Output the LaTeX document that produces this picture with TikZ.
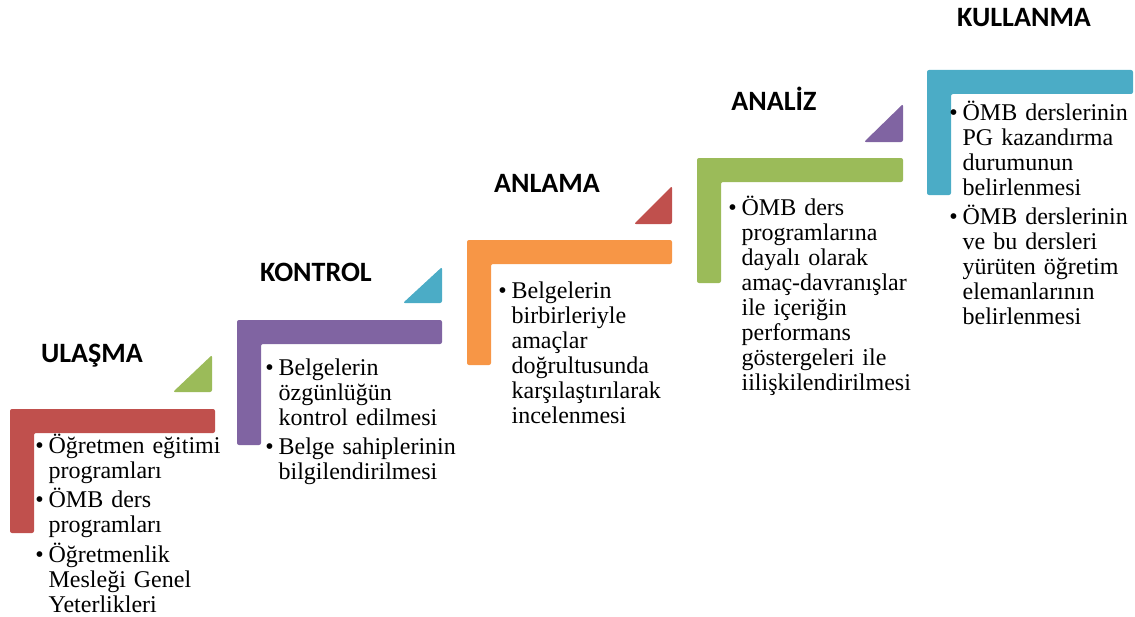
\documentclass[tikz,border=0pt]{standalone}
\usepackage{fontspec}
\setmainfont{Liberation Serif}
\newfontfamily\headfont{Carlito}
\usepackage{tikz}
\definecolor{stepred}{HTML}{C0504D}
\definecolor{steppurple}{HTML}{8064A2}
\definecolor{steporange}{HTML}{F79646}
\definecolor{stepgreen}{HTML}{9BBB59}
\definecolor{stepblue}{HTML}{4BACC6}
\tikzset{stair/.style={rounded corners=1.5pt},
  head/.style={anchor=base,inner sep=0,font=\headfont\bfseries\fontsize{21}{25}\selectfont},
  items/.style={anchor=base west,inner sep=0,text width=170pt,align=left,font=\fontsize{18}{18.75}\selectfont}}
\newcommand{\itm}{\hangindent=10pt\hangafter=1\noindent\makebox[10pt][l]{\textbullet}}

\begin{document}
\begin{tikzpicture}[x=0.75pt,y=-0.75pt]
    \useasboundingbox (0,0) rectangle (1135,617);

    % steps
    \fill[stepred,stair] (10,409) -- (215,409) -- (215,433) -- (34,433) -- (34,533) -- (10,533) -- cycle;
    \fill[steppurple,stair] (237,320) -- (442,320) -- (442,344) -- (261,344) -- (261,445) -- (237,445) -- cycle;
    \fill[steporange,stair] (467,240) -- (672,240) -- (672,264) -- (491,264) -- (491,365) -- (467,365) -- cycle;
    \fill[stepgreen,stair] (697,158) -- (903,158) -- (903,182) -- (721,182) -- (721,283) -- (697,283) -- cycle;
    \fill[stepblue,stair] (927,70) -- (1133,70) -- (1133,94) -- (951,94) -- (951,195) -- (927,195) -- cycle;

    % arrows between steps
    \fill[stepgreen,stair] (173,392) -- (212,392) -- (212,355) -- cycle;
    \fill[stepblue,stair] (403,303) -- (442,303) -- (442,267) -- cycle;
    \fill[stepred,stair] (634,224) -- (672,224) -- (672,186) -- cycle;
    \fill[steppurple,stair] (864,142) -- (903,142) -- (903,104) -- cycle;

    \node[head] (h1) at (92,362) {ULAŞMA};
    \node[head] (h2) at (316,281) {KONTROL};
    \node[head] (h3) at (547,192) {ANLAMA};
    \node[head] (h4) at (774,110) {ANALİZ};
    \node[head] (h5) at (1024,27) {KULLANMA};

    \node[items] (t1) at (35,453) {\setlength{\parskip}{3.5pt}%
        \itm Öğretmen eğitimi\newline programları\par
        \itm ÖMB ders\newline programları\par
        \itm Öğretmenlik\newline Mesleği Genel\newline Yeterlikleri\par};
    \node[items] (t2) at (265,375) {\setlength{\parskip}{3.5pt}%
        \itm Belgelerin\newline özgünlüğün\newline kontrol edilmesi\par
        \itm Belge sahiplerinin\newline bilgilendirilmesi\par};
    \node[items] (t3) at (498,298) {\setlength{\parskip}{3.5pt}%
        \itm Belgelerin\newline birbirleriyle\newline amaçlar\newline doğrultusunda\newline karşılaştırılarak\newline incelenmesi\par};
    \node[items] (t4) at (728,215) {\setlength{\parskip}{3.5pt}%
        \itm ÖMB ders\newline programlarına\newline dayalı olarak\newline amaç-davranışlar\newline ile içeriğin\newline performans\newline göstergeleri ile\newline iilişkilendirilmesi\par};
    \node[items] (t5) at (949,120) {\setlength{\parskip}{3.5pt}%
        \itm ÖMB derslerinin\newline PG kazandırma\newline durumunun\newline belirlenmesi\par
        \itm ÖMB derslerinin\newline ve bu dersleri\newline yürüten öğretim\newline elemanlarının\newline belirlenmesi\par};
\end{tikzpicture}
\end{document}
